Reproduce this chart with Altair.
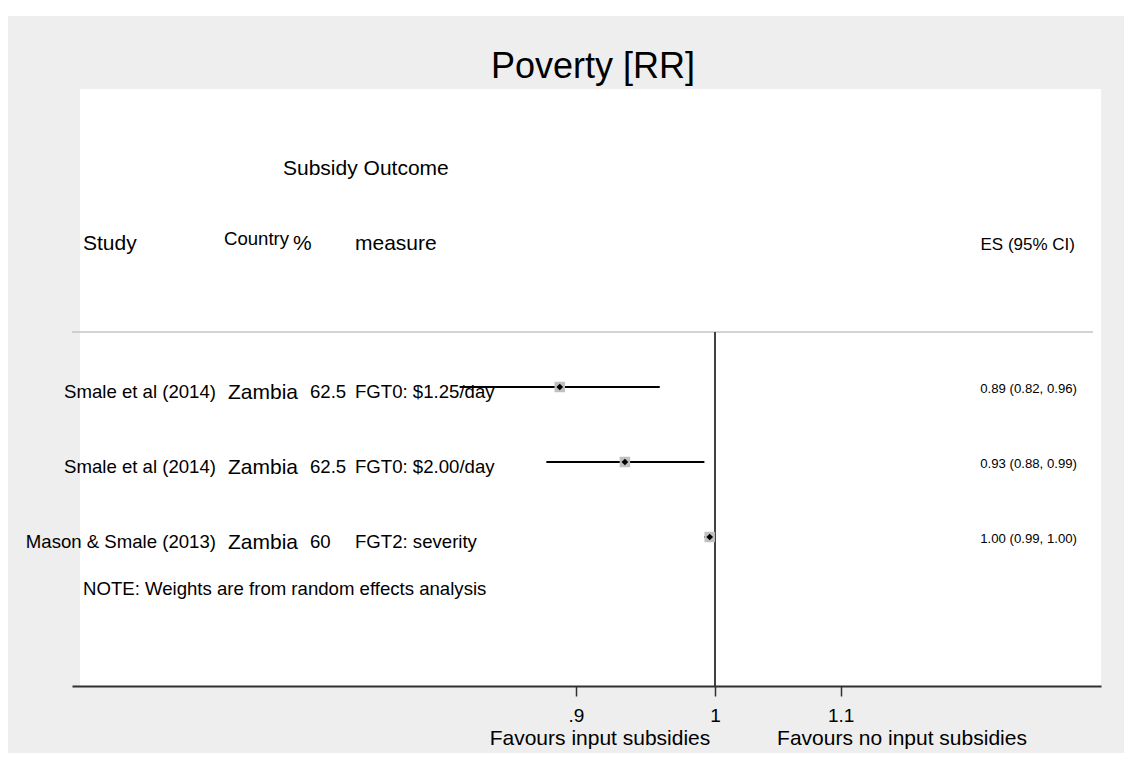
import altair as alt
import pandas as pd

# ---- data ----
studies = ["Smale et al (2014)", "Smale et al (2014)", "Mason & Smale (2013)"]
countries = ["Zambia", "Zambia", "Zambia"]
subsidy_pct = ["62.5", "62.5", "60"]
measures = ["FGT0: $1.25/day", "FGT0: $2.00/day", "FGT2: severity"]
es = [0.889, 0.934, 0.996]
ci_low = [0.824, 0.880, 0.992]
ci_high = [0.959, 0.992, 0.9995]
es_labels = ["0.89 (0.82, 0.96)", "0.93 (0.88, 0.99)", "1.00 (0.99, 1.00)"]
rows = [1, 2, 3]
tick_values = [0.9, 1.0, 1.1]
tick_labels = [".9", "1", "1.1"]
title_text = "Poverty [RR]"
header_group = "Subsidy Outcome"
header_cols = ["Study", "Country", "%", "measure", "ES (95% CI)"]
note_text = "NOTE: Weights are from random effects analysis"
favour_labels = ["Favours input subsidies", "Favours no input subsidies"]

df = pd.DataFrame({
    "study": studies, "country": countries, "pct": subsidy_pct,
    "measure": measures, "es": es, "lo": ci_low, "hi": ci_high,
    "eslab": es_labels, "row": rows,
})

FONT = "Liberation Sans"
W, H = 1029, 597

xscale = alt.Scale(type="log", domain=[0.61423, 1.3399], nice=False, zero=False)
yscale = alt.Scale(domain=[-2.9733, 4.9867], reverse=True, nice=False, zero=False)

label_expr = "[" + ",".join("'%s'" % t for t in tick_labels) + "][indexof([" + \
    ",".join(str(v) for v in tick_values) + "], datum.value)]"

base = alt.Chart(df)
Y = alt.Y("row:Q", scale=yscale, axis=None)

one = alt.Data(values=[{"k": 1}])

# decoration: strips that are not part of the grey frame / white plot region
white_top = alt.Chart(one).mark_rect(color="white").encode(
    x=alt.value(-64), x2=alt.value(W + 23), y=alt.value(-81), y2=alt.value(-73))
grey_left = alt.Chart(one).mark_rect(color="#eeeeee").encode(
    x=alt.value(0), x2=alt.value(8), y=alt.value(0), y2=alt.value(H))

separator = alt.Chart(one).mark_rule(color="#c4c4c4", strokeWidth=1.5).encode(
    x=alt.value(0), x2=alt.value(W - 8), y=alt.value(243))

null_line = alt.Chart(one).mark_rule(color="#404040", strokeWidth=2).encode(
    x=alt.datum(1.0, scale=xscale), y=alt.value(243), y2=alt.value(H))

ci = base.mark_rule(color="black", strokeWidth=2).encode(
    x=alt.X("lo:Q", scale=xscale, title=None,
            axis=alt.Axis(values=tick_values, labelExpr=label_expr, grid=False,
                          domainColor="#303030", domainWidth=2, tickColor="#303030",
                          tickWidth=1.5, tickSize=10, labelFontSize=19, labelFont=FONT,
                          labelColor="black", labelPadding=10, zindex=1)),
    x2="hi:Q", y=Y)

box = base.mark_square(color="#c0c0c0", size=110, opacity=1).encode(
    x=alt.X("es:Q", scale=xscale), y=Y)
dot = base.mark_point(shape="diamond", filled=True, color="black", size=45, opacity=1).encode(
    x=alt.X("es:Q", scale=xscale), y=Y)

def col_text(field, xpos, align, size, dy=11):
    return base.mark_text(align=align, baseline="alphabetic", font=FONT, fontSize=size,
                          color="black", dy=dy).encode(
        x=alt.value(xpos), y=Y, text=f"{field}:N")

t_study = col_text("study", 144, "right", 18.6)
t_country = col_text("country", 156, "left", 21, dy=12)
t_pct = col_text("pct", 238, "left", 18.6)
t_meas = col_text("measure", 283, "left", 18.6)
t_es = col_text("eslab", 1005, "right", 13.2, dy=6)

def free_text(txt, xpos, ypos, align, size):
    return alt.Chart(alt.Data(values=[{"t": txt}])).mark_text(
        align=align, baseline="alphabetic", font=FONT, fontSize=size, color="black").encode(
        x=alt.value(xpos), y=alt.value(ypos), text="t:N")

headers = [
    free_text(title_text, 521, -11, "center", 36),
    free_text(header_group, 211, 86, "left", 21),
    free_text(header_cols[0], 11, 161, "left", 21),
    free_text(header_cols[1], 152, 156, "left", 18.6),
    free_text(header_cols[2], 221, 161, "left", 21),
    free_text(header_cols[3], 283, 161, "left", 21),
    free_text(header_cols[4], 1003, 161, "right", 17),
    free_text(note_text, 11, 506, "left", 18.6),
    free_text(favour_labels[0], 528, 656, "center", 21),
    free_text(favour_labels[1], 830, 656, "center", 21),
]

chart = alt.layer(
    white_top, grey_left, separator, null_line, ci, box, dot,
    t_study, t_country, t_pct, t_meas, t_es, *headers
).properties(
    width=W, height=H,
    autosize=alt.AutoSizeParams(type="none"),
    padding={"left": 64, "top": 81, "right": 23, "bottom": 67},
    background="#eeeeee",
).configure_view(fill="white", strokeWidth=0)

chart.save("out.html", embed_options={"renderer": "svg", "actions": False})
